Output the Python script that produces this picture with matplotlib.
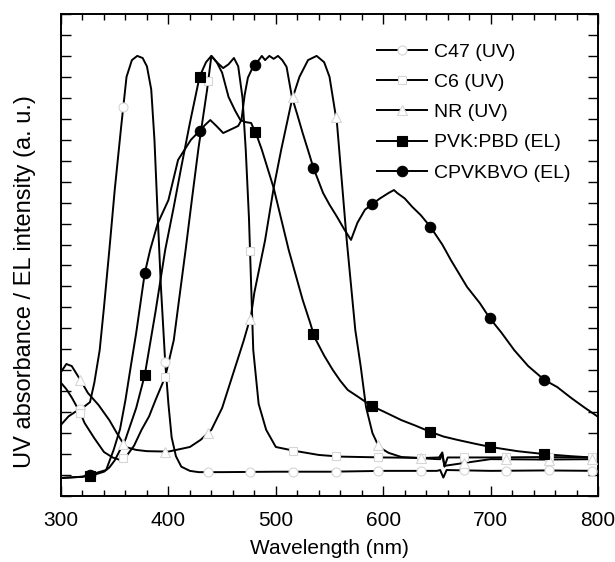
import numpy as np
import matplotlib.pyplot as plt
from matplotlib.lines import Line2D
from matplotlib.ticker import MultipleLocator

plt.rcParams['font.family'] = ['Liberation Sans', 'DejaVu Sans']

# UV absorption spectra of the dyes (normalised)
c47_wl = [300, 307, 314, 320, 327, 331, 336, 340, 345, 350, 356, 361, 366, 371, 376, 380,
          384, 387, 390, 393, 397, 400, 403, 407, 412, 420, 428, 450, 500, 550, 600, 650,
          653, 656, 659, 700, 750, 800]
c47_y = [0.12, 0.14, 0.152, 0.16, 0.174, 0.22, 0.298, 0.40, 0.537, 0.68, 0.831, 0.95, 0.99,
         1.0, 0.995, 0.975, 0.92, 0.8, 0.62, 0.45, 0.27, 0.17, 0.09, 0.045, 0.02, 0.01, 0.007,
         0.007, 0.008, 0.008, 0.01, 0.01, 0.012, -0.006, 0.012, 0.01, 0.011, 0.01]

c6_wl = [300, 305, 310, 318, 322, 331, 340, 348, 355, 360, 368, 375, 382, 388, 397, 405, 410,
         416, 422, 428, 436, 440, 445, 451, 456, 461, 465, 469, 472, 475, 479, 484, 491, 500,
         517, 540, 560, 600, 640, 652, 655, 657, 660, 700, 750, 800]
c6_y = [0.22, 0.205, 0.185, 0.148, 0.124, 0.088, 0.055, 0.042, 0.036, 0.042, 0.07, 0.108,
        0.14, 0.179, 0.234, 0.322, 0.42, 0.537, 0.66, 0.78, 0.919, 1.0, 0.985, 0.971, 0.98,
        0.995, 0.975, 0.9, 0.776, 0.613, 0.298, 0.17, 0.108, 0.067, 0.058, 0.048, 0.044,
        0.042, 0.041, 0.042, 0.054, 0.02, 0.042, 0.042, 0.043, 0.042]

nr_wl = [300, 305, 310, 318, 325, 335, 345, 352, 360, 370, 380, 400, 420, 430, 440, 450, 460,
         470, 477, 480, 490, 498, 505, 515, 522, 530, 538, 545, 550, 557, 566, 574, 579, 584,
         590, 596, 605, 617, 650, 653, 655, 657, 700, 750, 800]
nr_y = [0.246, 0.265, 0.26, 0.227, 0.196, 0.167, 0.131, 0.10, 0.067, 0.06, 0.057, 0.056,
        0.067, 0.084, 0.108, 0.16, 0.24, 0.32, 0.382, 0.435, 0.56, 0.685, 0.776, 0.895, 0.95,
        0.99, 1.0, 0.985, 0.95, 0.838, 0.561, 0.346, 0.26, 0.162, 0.10, 0.067, 0.053, 0.043,
        0.038, 0.038, 0.05, 0.022, 0.038, 0.037, 0.038]

# EL spectra of the devices (normalised)
pvk_wl = [300, 320, 330, 340, 345, 350, 360, 370, 378, 388, 397, 405, 412, 420, 429, 435, 440,
          445, 450, 456, 462, 467, 472, 477, 482, 487, 498, 512, 525, 532, 536, 545, 553, 560,
          567, 577, 589, 600, 617, 630, 644, 656, 669, 685, 700, 725, 750, 775, 800]
pvk_y = [-0.007, -0.004, 0.0, 0.008, 0.018, 0.035, 0.085, 0.16, 0.239, 0.39, 0.537, 0.64,
         0.735, 0.84, 0.95, 0.985, 1.0, 0.985, 0.96, 0.902, 0.87, 0.847, 0.842, 0.84, 0.812,
         0.776, 0.685, 0.537, 0.418, 0.363, 0.329, 0.285, 0.251, 0.225, 0.203, 0.186, 0.165,
         0.152, 0.131, 0.118, 0.103, 0.092, 0.084, 0.075, 0.067, 0.057, 0.05, 0.045, 0.041]

cpv_wl = [300, 320, 330, 342, 349, 355, 360, 365, 370, 378, 383, 390, 400, 409, 421, 429, 434,
          439, 445, 451, 456, 461, 465, 468, 471, 474, 478, 481, 487, 490, 494, 498, 502, 506,
          510, 515, 520, 525, 530, 535, 544, 550, 557, 564, 570, 576, 583, 590, 597, 605, 610,
          613, 620, 627, 635, 644, 655, 663, 678, 690, 699, 710, 722, 735, 750, 762, 775, 788,
          800]
cpv_y = [-0.007, -0.004, 0.003, 0.012, 0.06, 0.11, 0.179, 0.26, 0.339, 0.482, 0.537, 0.6,
         0.656, 0.752, 0.80, 0.821, 0.835, 0.847, 0.832, 0.816, 0.822, 0.828, 0.833, 0.847,
         0.907, 0.948, 0.97, 0.979, 1.0, 0.99, 1.0, 0.993, 1.0, 0.99, 0.974, 0.902, 0.86, 0.816,
         0.775, 0.733, 0.673, 0.645, 0.616, 0.585, 0.561, 0.602, 0.633, 0.647, 0.66, 0.673,
         0.68, 0.673, 0.66, 0.64, 0.62, 0.592, 0.55, 0.513, 0.449, 0.41, 0.375, 0.34, 0.298,
         0.26, 0.227, 0.21, 0.184, 0.16, 0.139]

# wavelengths where symbols sit on the curves
uv_marks = [318, 358, 397, 437, 476, 516, 556, 595, 635, 675, 714, 754, 794]
el_marks = [327, 378, 429, 481, 535, 590, 644, 699, 750]

labels = ['C47 (UV)', 'C6 (UV)', 'NR (UV)', 'PVK:PBD (EL)', 'CPVKBVO (EL)']

faded = '#d6d6d6'
series = [
    (c47_wl, c47_y, uv_marks, dict(marker='o', ms=6.5, mfc='white', mec=faded, mew=0.8)),
    (c6_wl, c6_y, uv_marks, dict(marker='s', ms=6.0, mfc='white', mec=faded, mew=0.8)),
    (nr_wl, nr_y, uv_marks, dict(marker='^', ms=6.5, mfc='white', mec=faded, mew=0.8)),
    (pvk_wl, pvk_y, el_marks, dict(marker='s', ms=6.5, mfc='black', mec='black', mew=0.8)),
    (cpv_wl, cpv_y, el_marks, dict(marker='o', ms=7.5, mfc='black', mec='black', mew=0.8)),
]

fig = plt.figure(figsize=(6.15, 5.62), dpi=100)
ax = fig.add_axes([0.0992, 0.1174, 0.8732, 0.8577])

handles = []
for (wl, y, marks, mstyle), lab in zip(series, labels):
    ax.plot(wl, y, color='black', lw=1.4, zorder=2)
    my = np.interp(marks, wl, y)
    ax.plot(marks, my, ls='none', zorder=3, **mstyle)
    handles.append(Line2D([], [], color='black', lw=1.4, **mstyle))

ax.set_xlim(300, 800)
ax.set_ylim(-0.05, 1.1)
ax.xaxis.set_major_locator(MultipleLocator(100))
ax.xaxis.set_minor_locator(MultipleLocator(20))
ax.yaxis.set_major_locator(MultipleLocator(0.05))
ax.tick_params(which='both', direction='in', top=True, right=True, width=1)
ax.tick_params(which='major', length=7, labelsize=15, pad=11)
ax.tick_params(axis='x', which='minor', length=4)
ax.tick_params(axis='y', labelleft=False)
for sp in ax.spines.values():
    sp.set_linewidth(1.4)

ax.set_xlabel('Wavelength (nm)', fontsize=15, labelpad=6)
ax.set_ylabel('UV absorbance / EL intensity (a. u.)', fontsize=17)
ax.yaxis.set_label_coords(-0.047, 0.445)

ax.legend(handles, labels, loc='upper left', bbox_to_anchor=(0.57, 0.96), frameon=False,
          borderpad=0, handlelength=2.6, handletextpad=0.35, labelspacing=0.65, fontsize=14)

plt.savefig('out.png', dpi=100)
